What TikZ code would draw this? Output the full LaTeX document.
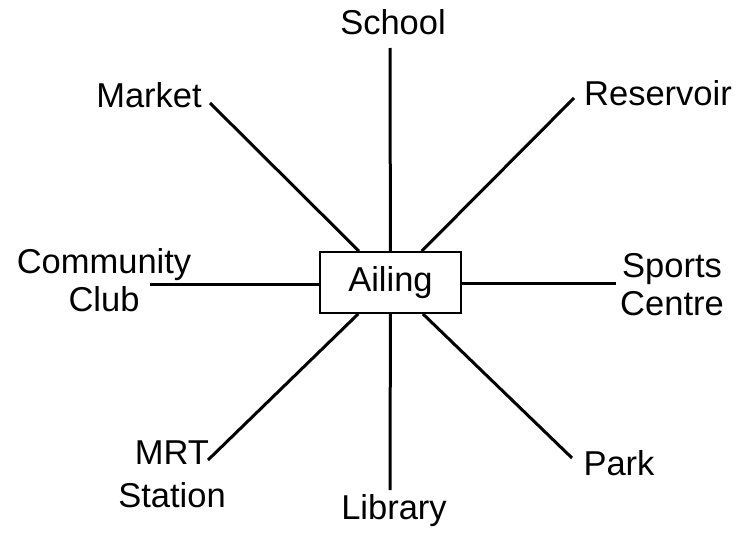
\documentclass[tikz,border=0pt]{standalone}
\usepackage{fontspec}
\setmainfont{Liberation Sans}
\begin{document}
\begin{tikzpicture}[x=1pt,y=-1pt,
  lbl/.style={font=\fontsize{34.5}{38}\selectfont, align=center, inner sep=0pt},
  conn/.style={line width=3pt},
  hub/.style={draw, line width=1.8pt, minimum width=141pt, minimum height=61pt, inner sep=0pt, font=\fontsize{34.5}{38}\selectfont}]
\useasboundingbox (0,0) rectangle (740,538);
\node[hub] (ail) at (390.5,282.5) {Ailing};
% labels
\node[lbl] (sch) at (393,22) {School};
\node[lbl] (mkt) at (149,95) {Market};
\node[lbl] (res) at (658,93) {Reservoir};
\node[lbl] (cc) at (104,280) {Community\\Club};
\node[lbl] (sc) at (672,285) {Sports\\Centre};
\node[lbl, font=\fontsize{34.5}{43}\selectfont] (mrt) at (172,474) {MRT\\Station};
\node[lbl] (park) at (619,463) {Park};
\node[lbl] (lib) at (394,511) {Library};
% line ends
\coordinate (eSch) at (390,48);
\coordinate (eMkt) at (210,103);
\coordinate (eRes) at (574,98);
\coordinate (eCC) at (150,284);
\coordinate (eSC) at (616,283);
\coordinate (eMrt) at (208,460);
\coordinate (ePark) at (572,458);
\coordinate (eLib) at (390,490);
\draw[conn] (eSch) -- (ail);
\draw[conn] (eMkt) -- (ail);
\draw[conn] (eRes) -- (ail);
\draw[conn] (eCC) -- (eCC -| ail.west);
\draw[conn] (eSC) -- (eSC -| ail.east);
\draw[conn] (eMrt) -- (ail);
\draw[conn] (ePark) -- (ail);
\draw[conn] (eLib) -- (ail);
\end{tikzpicture}
\end{document}
